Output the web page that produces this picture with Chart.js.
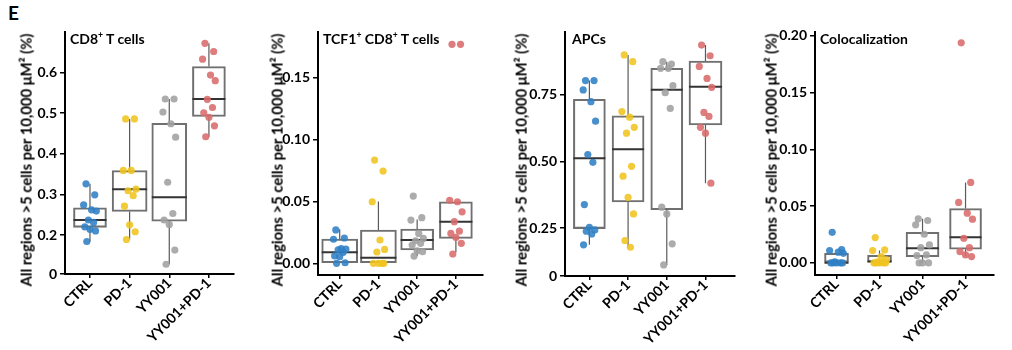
<!DOCTYPE html>
<html>
<head>
<meta charset="utf-8">
<script src="https://cdn.jsdelivr.net/npm/chart.js@4.4.1/dist/chart.umd.min.js"></script>
<style>
html,body{margin:0;padding:0;background:#fff;}
#wrap{position:relative;width:1012px;height:350px;overflow:hidden;font-family:Lato,"Open Sans",sans-serif;color:#000;background:#fff;}
canvas{position:absolute;top:0;}
.lbl{position:absolute;font-weight:bold;white-space:nowrap;line-height:1;}
.ttl{font-size:14px;top:32px;}
.ytl{font-size:14.8px;top:160px;transform:translate(-50%,-50%) rotate(-90deg);}
.panelE{font-size:19px;left:8px;top:3px;}
sup{font-size:0.62em;vertical-align:top;position:relative;top:-0.15em;}
</style>
</head>
<body>
<div id="wrap">
  <div class="lbl panelE">E</div>
  <canvas id="c0" width="253" height="350" style="left:0px"></canvas>
  <canvas id="c1" width="250" height="350" style="left:253px"></canvas>
  <canvas id="c2" width="250" height="350" style="left:503px"></canvas>
  <canvas id="c3" width="259" height="350" style="left:753px"></canvas>
  <div class="lbl ttl" style="left:70px">CD8<sup>+</sup> T cells</div>
  <div class="lbl ttl" style="left:323px">TCF1<sup>+</sup> CD8<sup>+</sup> T cells</div>
  <div class="lbl ttl" style="left:572px">APCs</div>
  <div class="lbl ttl" style="left:820px">Colocalization</div>
  <div class="lbl ytl" style="left:26px">All regions &gt;5 cells per 10,000 μM² (%)</div>
  <div class="lbl ytl" style="left:277px">All regions &gt;5 cells per 10,000 μM² (%)</div>
  <div class="lbl ytl" style="left:521px">All regions &gt;5 cells per 10,000 μM² (%)</div>
  <div class="lbl ytl" style="left:771px">All regions &gt;5 cells per 10,000 μM² (%)</div>
</div>
<script>
// ---------------- DATA ----------------
const CATEGORIES = ['CTRL', 'PD-1', 'YY001', 'YY001+PD-1'];

// Panel 1: CD8+ T cells
const CD8_CTRL  = [0.326, 0.299, 0.274, 0.262, 0.259, 0.237, 0.231, 0.220, 0.214, 0.210, 0.184];
const CD8_PD1   = [0.486, 0.486, 0.359, 0.359, 0.313, 0.309, 0.297, 0.271, 0.225, 0.208, 0.189];
const CD8_YY001 = [0.535, 0.535, 0.503, 0.474, 0.441, 0.330, 0.253, 0.237, 0.226, 0.163, 0.128];
const CD8_COMBO = [0.672, 0.652, 0.633, 0.594, 0.580, 0.534, 0.514, 0.501, 0.490, 0.469, 0.442];
const CD8_Q1  = [0.219, 0.258, 0.234, 0.492];
const CD8_MED = [0.237, 0.313, 0.293, 0.535];
const CD8_Q3  = [0.267, 0.359, 0.475, 0.615];
const CD8_LO  = [0.184, 0.189, 0.128, 0.442];
const CD8_HI  = [0.326, 0.486, 0.535, 0.672];
const CD8_TICKS = [0.2, 0.3, 0.4, 0.5, 0.6];

// Panel 2: TCF1+ CD8+ T cells
const TCF_CTRL  = [0.0270, 0.0205, 0.0195, 0.0120, 0.0115, 0.0110, 0.0089, 0.0060, 0.0054, 0.0005, 0.0000];
const TCF_PD1   = [0.0835, 0.0746, 0.0498, 0.0189, 0.0113, 0.0092, 0.0000, 0.0000, 0.0000, 0.0000];
const TCF_YY001 = [0.0544, 0.0369, 0.0350, 0.0242, 0.0202, 0.0183, 0.0162, 0.0148, 0.0102, 0.0094, 0.0059];
const TCF_COMBO = [0.1770, 0.1770, 0.0510, 0.0498, 0.0417, 0.0337, 0.0260, 0.0242, 0.0210, 0.0162, 0.0075];
const TCF_Q1  = [0.0000, 0.0000, 0.0108, 0.0202];
const TCF_MED = [0.0089, 0.0046, 0.0189, 0.0337];
const TCF_Q3  = [0.0197, 0.0270, 0.0277, 0.0498];
const TCF_LO  = [0.0000, 0.0000, 0.0060, 0.0089];
const TCF_HI  = [0.0275, 0.0500, 0.0355, 0.0498];
const TCF_TICKS = [0.00, 0.05, 0.10, 0.15];

// Panel 3: APCs
const APC_CTRL  = [0.802, 0.802, 0.767, 0.723, 0.650, 0.525, 0.496, 0.338, 0.253, 0.243, 0.238, 0.228, 0.187];
const APC_PD1   = [0.898, 0.873, 0.686, 0.665, 0.627, 0.605, 0.481, 0.444, 0.365, 0.303, 0.203, 0.178];
const APC_YY001 = [0.873, 0.864, 0.848, 0.848, 0.783, 0.757, 0.698, 0.328, 0.303, 0.191, 0.112];
const APC_COMBO = [0.935, 0.895, 0.855, 0.810, 0.777, 0.683, 0.668, 0.627, 0.605, 0.418];
const APC_Q1  = [0.248, 0.348, 0.319, 0.636];
const APC_MED = [0.511, 0.545, 0.768, 0.779];
const APC_Q3  = [0.732, 0.670, 0.848, 0.875];
const APC_LO  = [0.187, 0.178, 0.112, 0.418];
const APC_HI  = [0.802, 0.898, 0.873, 0.935];
const APC_TICKS = [0.25, 0.50, 0.75];

// Panel 4: Colocalization
const COL_CTRL  = [0.0270, 0.0118, 0.0110, 0.0095, 0.0085, 0.0010, 0.0000, 0.0000, 0.0000, 0.0000, 0.0000];
const COL_PD1   = [0.0224, 0.0115, 0.0109, 0.0056, 0.0027, 0.0010, 0.0000, 0.0000, 0.0000, 0.0000, 0.0000];
const COL_YY001 = [0.0389, 0.0374, 0.0336, 0.0253, 0.0159, 0.0135, 0.0071, 0.0065, 0.0000, 0.0000, 0.0000];
const COL_COMBO = [0.1940, 0.0710, 0.0533, 0.0439, 0.0386, 0.0218, 0.0135, 0.0100, 0.0071, 0.0056];
const COL_Q1  = [0.0000, 0.0000, 0.0056, 0.0121];
const COL_MED = [0.0003, 0.0012, 0.0130, 0.0227];
const COL_Q3  = [0.0085, 0.0068, 0.0271, 0.0480];
const COL_LO  = [0.0000, 0.0000, 0.0000, 0.0056];
const COL_HI  = [0.0085, 0.0110, 0.0389, 0.0710];
const COL_TICKS = [0.00, 0.05, 0.10, 0.15, 0.20];

// ---------------- STYLE ----------------
const FONT = 'Lato, "Open Sans", sans-serif';
const COLORS = ['rgba(47,127,197,0.88)', 'rgba(240,196,32,0.88)', 'rgba(160,160,160,0.88)', 'rgba(216,107,107,0.88)'];
const JITTER_PATTERN = [-0.10, 0.12, -0.16, 0.04, 0.16, -0.04, 0.09, -0.13, 0.00, 0.14, -0.08, 0.06, -0.15];

const PANELS = [
  { id: 'c0', groups: [CD8_CTRL, CD8_PD1, CD8_YY001, CD8_COMBO], q1: CD8_Q1, med: CD8_MED, q3: CD8_Q3, lo: CD8_LO, hi: CD8_HI,
    ticks: CD8_TICKS, dec: 1, ymin: 0.104, ymax: 0.70, zeroAtBottom: true, yWidth: 65, padRight: 0, xHeight: 76, xmin: -0.63, xmax: 3.62, boxW: [33, 35, 35, 33] },
  { id: 'c1', groups: [TCF_CTRL, TCF_PD1, TCF_YY001, TCF_COMBO], q1: TCF_Q1, med: TCF_MED, q3: TCF_Q3, lo: TCF_LO, hi: TCF_HI,
    ticks: TCF_TICKS, dec: 2, ymin: -0.0094, ymax: 0.187, zeroAtBottom: false, yWidth: 65, padRight: 0, xHeight: 75, xmin: -0.56, xmax: 3.7, boxW: [36, 36, 33, 33] },
  { id: 'c2', groups: [APC_CTRL, APC_PD1, APC_YY001, APC_COMBO], q1: APC_Q1, med: APC_MED, q3: APC_Q3, lo: APC_LO, hi: APC_HI,
    ticks: APC_TICKS, dec: 2, ymin: 0.0704, ymax: 0.984, zeroAtBottom: true, yWidth: 62, padRight: 0, xHeight: 74, xmin: -0.63, xmax: 3.75, boxW: [32, 32, 32, 33] },
  { id: 'c3', groups: [COL_CTRL, COL_PD1, COL_YY001, COL_COMBO], q1: COL_Q1, med: COL_MED, q3: COL_Q3, lo: COL_LO, hi: COL_HI,
    ticks: COL_TICKS, dec: 2, ymin: -0.0106, ymax: 0.2035, zeroAtBottom: false, yWidth: 62, padRight: 12, xHeight: 75, xmin: -0.5, xmax: 3.65, boxW: [24, 24, 33, 32] }
];

function buildDatasets(p) {
  const ds = [];
  // boxes (floating bars)
  for (let g = 0; g < 4; g++) {
    ds.push({
      type: 'bar', order: 4, grouped: false,
      data: [{ x: g, y: [p.q1[g], p.q3[g]] }],
      backgroundColor: 'rgba(255,255,255,0)', borderColor: '#707070', borderWidth: 1.4,
      borderSkipped: false, barThickness: p.boxW[g]
    });
  }
  // whiskers
  const wh = [];
  for (let g = 0; g < 4; g++) {
    wh.push({ x: g, y: p.q1[g] }, { x: g, y: p.lo[g] }, { x: g, y: null });
    wh.push({ x: g, y: p.q3[g] }, { x: g, y: p.hi[g] }, { x: g, y: null });
  }
  ds.push({ type: 'line', order: 3, data: wh, borderColor: '#5a5a5a', borderWidth: 1.2, pointRadius: 0, spanGaps: false, fill: false });
  // medians
  ds.push({
    type: 'scatter', order: 2,
    data: p.med.map((m, g) => ({ x: g, y: m })),
    pointStyle: 'line', pointRadius: p.boxW.map(w => w / 2), pointBorderColor: '#333', pointBorderWidth: 2
  });
  // points
  p.groups.forEach((vals, g) => {
    ds.push({
      type: 'scatter', order: 0,
      data: vals.map((v, i) => ({ x: g + JITTER_PATTERN[i % JITTER_PATTERN.length], y: v })),
      pointRadius: 3.6, pointBackgroundColor: COLORS[g], pointBorderWidth: 0, pointBorderColor: COLORS[g]
    });
  });
  return ds;
}

PANELS.forEach(p => {
  const tickFont = { family: FONT, size: 14, weight: 'bold' };
  new Chart(document.getElementById(p.id), {
    type: 'scatter',
    data: { datasets: buildDatasets(p) },
    options: {
      responsive: false, animation: false, devicePixelRatio: 1, events: [],
      layout: { padding: { top: 32, right: p.padRight, left: 0, bottom: 0 } },
      plugins: { legend: { display: false }, tooltip: { enabled: false } },
      scales: {
        x: {
          type: 'linear', min: p.xmin, max: p.xmax, offset: false,
          afterBuildTicks: s => { s.ticks = CATEGORIES.map((c, i) => ({ value: i })); },
          afterFit: s => { s.height = p.xHeight; },
          ticks: { callback: v => CATEGORIES[v], autoSkip: false, minRotation: 45, maxRotation: 45, font: tickFont, color: '#000', padding: -3 },
          grid: { display: true, offset: false, drawOnChartArea: false, drawTicks: true, tickLength: 4, color: '#000', lineWidth: 1.5 },
          border: { display: true, color: '#000', width: 2 }
        },
        y: {
          type: 'linear', min: p.ymin, max: p.ymax, beginAtZero: false,
          afterBuildTicks: s => {
            const t = p.zeroAtBottom ? [p.ymin].concat(p.ticks) : p.ticks;
            s.ticks = t.map(v => ({ value: v }));
          },
          afterFit: s => { s.width = p.yWidth; },
          ticks: { callback: v => (p.zeroAtBottom && v === p.ymin) ? '0' : v.toFixed(p.dec), font: tickFont, color: '#000', padding: 3 },
          grid: { display: true, drawOnChartArea: false, drawTicks: true, tickLength: 5, color: '#000', lineWidth: 1.5 },
          border: { display: true, color: '#000', width: 2 }
        }
      }
    }
  });
});
</script>
</body>
</html>
